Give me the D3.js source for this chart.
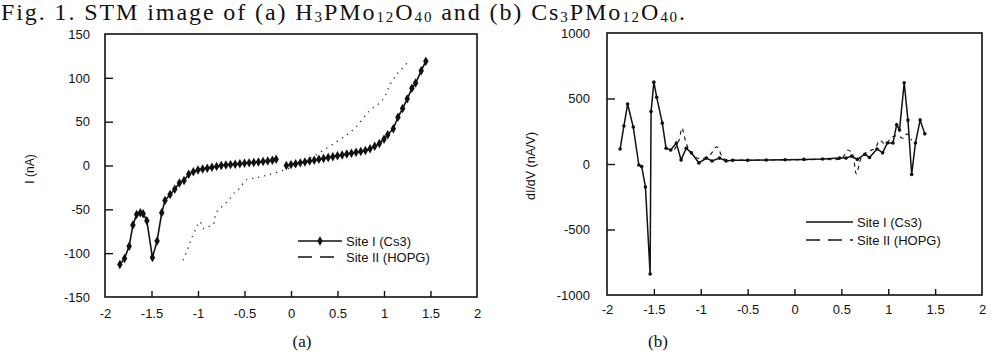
<!DOCTYPE html>
<html><head><meta charset="utf-8">
<script src="https://cdn.jsdelivr.net/npm/d3@7/dist/d3.min.js"></script>
<style>
html,body{margin:0;padding:0;background:#fff;}
svg{display:block;}
.tick text{font-family:"Liberation Sans",Arial,sans-serif;font-size:13px;fill:#111;}
</style></head><body>
<svg id="c" width="994" height="356"></svg>
<script>
// ---- Data: panel (a) I-V curves ----
const xTicks = [-2,-1.5,-1,-0.5,0,0.5,1,1.5,2];
const yTicksA = [-150,-100,-50,0,50,100,150];
const yTicksB = [-1000,-500,0,500,1000];

const siteIa_x = [-1.84,-1.79,-1.74,-1.70,-1.66,-1.62,-1.59,-1.55,-1.49,-1.44,-1.39,-1.355,-1.30,-1.25,-1.20,-1.15,-1.10,-1.05,-1.00,-0.95,-0.90,-0.85,-0.80,-0.75,-0.70,-0.65,-0.60,-0.55,-0.50,-0.45,-0.40,-0.35,-0.30,-0.25,-0.20,-0.16,
  null,
  -0.05,0.0,0.05,0.10,0.15,0.20,0.25,0.30,0.35,0.40,0.45,0.50,0.55,0.60,0.65,0.70,0.75,0.80,0.85,0.90,0.95,1.00,1.04,1.10,1.15,1.20,1.25,1.30,1.34,1.40,1.45];
const siteIa_y = [-113,-106,-92,-68,-56,-54,-55,-63,-105,-86,-54,-40,-33,-27,-20,-17,-10,-7,-5,-4,-3,-2,-1,0,0.5,1,1.5,2,2.5,3,3.5,4,4.5,5,6,7,
  null,
  0,1,2,3,4,5,6,7,8,9,10,11,12,13,14,15,16,17,19,22,25,30,35,42,55,65,76,88,94,108,119];

const siteIIa_x = [-1.16,-1.11,-1.07,-1.02,-0.98,-0.94,-0.90,-0.84,-0.80,-0.72,-0.66,-0.60,-0.55,-0.49,-0.43,-0.37,0.05,0.49,0.69,0.84,0.97,1.02,1.06,1.11,1.17,1.28];
const siteIIa_y = [-108,-95,-83,-72,-64,-72,-70,-68,-53,-45,-38,-30,-26,-17,-15,-14,0,27,43,62,73,81,91,100,108,120];

// ---- Data: panel (b) dI/dV ----
const siteIb_x = [-1.86,-1.82,-1.78,-1.72,-1.66,-1.63,-1.59,-1.54,-1.53,-1.50,-1.47,-1.41,-1.37,-1.32,-1.26,-1.21,-1.155,-1.10,-1.02,-0.94,-0.88,-0.80,-0.73,-0.66,-0.50,-0.30,-0.10,0.10,0.30,0.48,0.55,0.61,0.67,0.75,0.80,0.88,0.94,0.99,1.05,1.09,1.12,1.17,1.21,1.25,1.29,1.34,1.39];
const siteIb_y = [115,290,458,282,-8,-20,-175,-840,400,625,510,312,120,107,160,30,120,85,8,45,23,45,23,28,28,30,32,35,38,45,45,60,35,75,50,115,85,160,160,300,260,620,335,-80,160,335,230];

const siteIIb_x = [-1.28,-1.23,-1.20,-1.16,-1.12,-1.05,-0.98,-0.90,-0.83,-0.75,-0.60,-0.30,0.00,0.30,0.50,0.57,0.62,0.66,0.72,0.80,0.86,0.91,0.97,1.03,1.08,1.12,1.16,1.20,1.25];
const siteIIb_y = [110,185,275,170,100,50,40,70,130,40,30,30,32,36,42,107,70,-75,60,100,120,180,150,200,215,210,195,230,180];

const legendLabels = ["Site I (Cs3)", "Site II (HOPG)"];

// ---- Drawing ----
const svg = d3.select("#c");
svg.append("rect").attr("width",994).attr("height",356).attr("fill","#fff");

const zip = (xs, ys) => xs.map((x,i) => ({x, y: ys[i]}));

// Title
const title = svg.append("text").attr("x",1).attr("y",20)
  .attr("textLength",684).attr("lengthAdjust","spacing")
  .style("font-family","'Liberation Serif','Times New Roman',serif").style("font-size","24px").attr("fill","#111");
const parts = [["Fig. 1. STM image of (a) H",0],["3",1],["PMo",0],["12",1],["O",0],["40",1],[" and (b) Cs",0],["3",1],["PMo",0],["12",1],["O",0],["40",1],[".",0]];
let prevSub = false;
parts.forEach(([t,s]) => {
  const ts = title.append("tspan").text(t);
  if (s) { ts.style("font-size","15px"); if(!prevSub) ts.attr("dy",2); }
  else if (prevSub) ts.attr("dy",-2);
  prevSub = !!s;
});

const fmt = d => String(d);

function panel(cfg){
  const x = d3.scaleLinear().domain([-2,2]).range([cfg.l,cfg.r]);
  const y = d3.scaleLinear().domain(cfg.ydom).range([cfg.b,cfg.t]);
  const g = svg.append("g");
  const xa = g.append("g").attr("transform",`translate(0,${cfg.b})`)
    .call(d3.axisBottom(x).tickValues(xTicks).tickSize(-6).tickPadding(cfg.xpad).tickFormat(fmt));
  const ya = g.append("g").attr("transform",`translate(${cfg.l},0)`)
    .call(d3.axisLeft(y).tickValues(cfg.yticks).tickSize(-8).tickPadding(cfg.ypad).tickFormat(fmt));
  [xa,ya].forEach(a => { a.select(".domain").remove(); a.selectAll(".tick line").attr("stroke","#111").attr("stroke-width",1.4); });
  xa.selectAll(".tick").filter(d => d===-2 || d===2).select("line").remove();
  ya.selectAll(".tick").filter(d => d===cfg.ydom[0] || d===cfg.ydom[1]).select("line").remove();
  g.append("rect").attr("x",cfg.l).attr("y",cfg.t).attr("width",cfg.r-cfg.l).attr("height",cfg.b-cfg.t)
    .attr("fill","none").attr("stroke","#111").attr("stroke-width",1.6);
  g.append("text").attr("transform",`translate(${cfg.ytx},${cfg.yty}) rotate(-90)`)
    .attr("text-anchor","middle").attr("font-family","'Liberation Sans',Arial,sans-serif")
    .attr("font-size",cfg.ytfs).attr("fill","#111").text(cfg.ytitle);
  g.append("text").attr("x",cfg.plx).attr("y",cfg.ply).attr("text-anchor","middle")
    .attr("font-family","'Liberation Serif','Times New Roman',serif").attr("font-size",17).attr("fill","#111").text(cfg.plabel);
  return {x,y,g};
}

// Panel (a)
const A = panel({l:105,r:477,t:34,b:297,ydom:[-150,150],yticks:yTicksA,xpad:12,ypad:15,
  ytx:34,yty:169,ytfs:12,ytitle:"I (nA)",plx:302,ply:347,plabel:"(a)"});
const lineA = d3.line().defined(d => d.y !== null).x(d => A.x(d.x)).y(d => A.y(d.y));
A.g.append("path").datum(zip(siteIIa_x,siteIIa_y)).attr("d",lineA.curve(d3.curveCatmullRom))
  .attr("fill","none").attr("stroke","#222").attr("stroke-width",1.3).attr("stroke-dasharray","1.2,5");
const lineA2 = d3.line().defined(d => d.y !== null).x(d => A.x(d.x)).y(d => A.y(d.y));
const dA = zip(siteIa_x,siteIa_y);
A.g.append("path").datum(dA).attr("d",lineA2)
  .attr("fill","none").attr("stroke","#111").attr("stroke-width",1.6);
const diamond = d3.symbol().type(d3.symbolDiamond).size(26);
A.g.selectAll(".m").data(dA.filter(d => d.y !== null)).join("path")
  .attr("transform",d => `translate(${A.x(d.x)},${A.y(d.y)})`).attr("d",diamond).attr("fill","#111");

function legend(g, x0, x1, ys, tx, withMarker){
  g.append("line").attr("x1",x0).attr("x2",x1).attr("y1",ys[0]).attr("y2",ys[0]).attr("stroke","#111").attr("stroke-width",1.5);
  if (withMarker) g.append("path").attr("transform",`translate(${(x0+x1)/2},${ys[0]})`).attr("d",diamond).attr("fill","#111");
  g.append("line").attr("x1",x0).attr("x2",x1).attr("y1",ys[1]).attr("y2",ys[1]).attr("stroke","#111").attr("stroke-width",1.5)
    .attr("stroke-dasharray","14,8");
  legendLabels.forEach((t,i) => g.append("text").attr("x",tx).attr("y",ys[i]).attr("dy","0.35em")
    .attr("font-family","'Liberation Sans',Arial,sans-serif").attr("font-size",13).attr("fill","#111").text(t));
}
legend(A.g, 298, 342, [241,257], 346, true);

// Panel (b)
const B = panel({l:607,r:982,t:33,b:295,ydom:[-1000,1000],yticks:yTicksB,xpad:10,ypad:17,
  ytx:535,yty:166,ytfs:12.5,ytitle:"dI/dV (nA/V)",plx:658,ply:347,plabel:"(b)"});
const lineB = d3.line().x(d => B.x(d.x)).y(d => B.y(d.y));
B.g.append("path").datum(zip(siteIIb_x,siteIIb_y)).attr("d",lineB.curve(d3.curveCatmullRom))
  .attr("fill","none").attr("stroke","#222").attr("stroke-width",1.2).attr("stroke-dasharray","4,4");
const lineB2 = d3.line().x(d => B.x(d.x)).y(d => B.y(d.y));
const dB = zip(siteIb_x,siteIb_y);
B.g.append("path").datum(dB).attr("d",lineB2).attr("fill","none").attr("stroke","#111").attr("stroke-width",1.5);
B.g.selectAll(".m").data(dB).join("circle").attr("cx",d => B.x(d.x)).attr("cy",d => B.y(d.y)).attr("r",1.8).attr("fill","#111");
legend(B.g, 806, 853, [222,240], 857, false);
</script>
</body></html>
